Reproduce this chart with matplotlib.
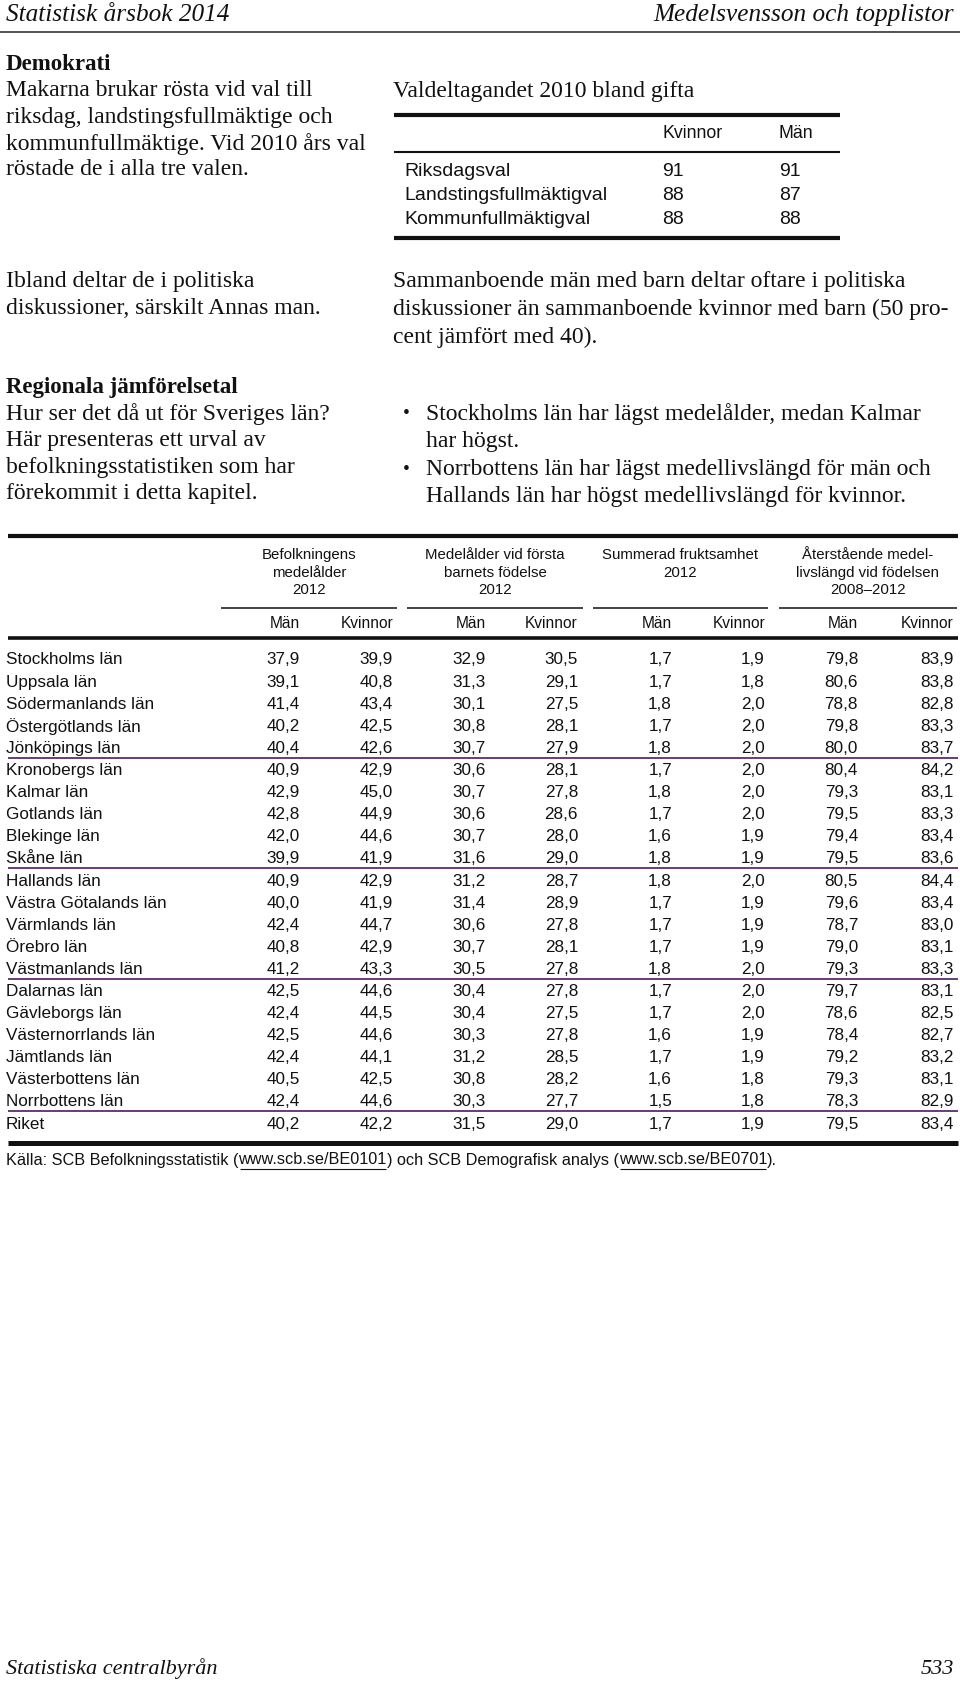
import matplotlib
matplotlib.use("Agg")
import matplotlib.pyplot as plt

SERIF = "Liberation Serif"
SANS = "Liberation Sans"
PURPLE = "#5e2b6e"

# ── data ────────────────────────────────────────────────────────────────
val_types = ["Riksdagsval", "Landstingsfullmäktigval", "Kommunfullmäktigval"]
val_kvinnor = [91, 88, 88]
val_man = [91, 87, 88]

regions = [
    "Stockholms län", "Uppsala län", "Södermanlands län", "Östergötlands län",
    "Jönköpings län", "Kronobergs län", "Kalmar län", "Gotlands län",
    "Blekinge län", "Skåne län", "Hallands län", "Västra Götalands län",
    "Värmlands län", "Örebro län", "Västmanlands län", "Dalarnas län",
    "Gävleborgs län", "Västernorrlands län", "Jämtlands län",
    "Västerbottens län", "Norrbottens län", "Riket",
]
medelalder_man = [37.9, 39.1, 41.4, 40.2, 40.4, 40.9, 42.9, 42.8, 42.0, 39.9, 40.9,
                  40.0, 42.4, 40.8, 41.2, 42.5, 42.4, 42.5, 42.4, 40.5, 42.4, 40.2]
medelalder_kv = [39.9, 40.8, 43.4, 42.5, 42.6, 42.9, 45.0, 44.9, 44.6, 41.9, 42.9,
                 41.9, 44.7, 42.9, 43.3, 44.6, 44.5, 44.6, 44.1, 42.5, 44.6, 42.2]
forsta_man = [32.9, 31.3, 30.1, 30.8, 30.7, 30.6, 30.7, 30.6, 30.7, 31.6, 31.2,
              31.4, 30.6, 30.7, 30.5, 30.4, 30.4, 30.3, 31.2, 30.8, 30.3, 31.5]
forsta_kv = [30.5, 29.1, 27.5, 28.1, 27.9, 28.1, 27.8, 28.6, 28.0, 29.0, 28.7,
             28.9, 27.8, 28.1, 27.8, 27.8, 27.5, 27.8, 28.5, 28.2, 27.7, 29.0]
frukt_man = [1.7, 1.7, 1.8, 1.7, 1.8, 1.7, 1.8, 1.7, 1.6, 1.8, 1.8,
             1.7, 1.7, 1.7, 1.8, 1.7, 1.7, 1.6, 1.7, 1.6, 1.5, 1.7]
frukt_kv = [1.9, 1.8, 2.0, 2.0, 2.0, 2.0, 2.0, 2.0, 1.9, 1.9, 2.0,
            1.9, 1.9, 1.9, 2.0, 2.0, 2.0, 1.9, 1.9, 1.8, 1.8, 1.9]
liv_man = [79.8, 80.6, 78.8, 79.8, 80.0, 80.4, 79.3, 79.5, 79.4, 79.5, 80.5,
           79.6, 78.7, 79.0, 79.3, 79.7, 78.6, 78.4, 79.2, 79.3, 78.3, 79.5]
liv_kv = [83.9, 83.8, 82.8, 83.3, 83.7, 84.2, 83.1, 83.3, 83.4, 83.6, 84.4,
          83.4, 83.0, 83.1, 83.3, 83.1, 82.5, 82.7, 83.2, 83.1, 82.9, 83.4]
group_titles = [
    "Befolkningens\nmedelålder\n2012",
    "Medelålder vid första\nbarnets födelse\n2012",
    "Summerad fruktsamhet\n2012",
    "Återstående medel-\nlivslängd vid födelsen\n2008–2012",
]
# rows after which a purple separator is drawn
separators_after = [4, 9, 14, 20]

# ── page setup (axes in pixel units, y downwards) ───────────────────────
fig = plt.figure(figsize=(9.6, 16.85), dpi=100)
ax = fig.add_axes([0, 0, 1, 1])
ax.set_xlim(0, 960)
ax.set_ylim(1685, 0)
ax.axis("off")

BODY = 17


def serif(x, y, s, size=BODY, **kw):
    ax.text(x, y, s, family=SERIF, fontsize=size, va="center", color="#111111", **kw)


def sans(x, y, s, size=12, **kw):
    ax.text(x, y, s, family=SANS, fontsize=size, va="center", color="#111111", **kw)


def hline(y, x0, x1, lw, color="#111111"):
    ax.plot([x0, x1], [y, y], color=color, lw=lw, solid_capstyle="butt")


# running header / footer
serif(6, 15, "Statistisk årsbok 2014", size=18.2, style="italic")
serif(954, 15, "Medelsvensson och topplistor", size=18.2, style="italic", ha="right")
hline(32, 0, 960, 1.2, "#333333")
serif(6, 1669, "Statistiska centralbyrån", size=16, style="italic")
serif(954, 1669, "533", size=16, style="italic", ha="right")

# left column text
serif(6, 64, "Demokrati", size=16.5, weight="bold")
for i, line in enumerate(["Makarna brukar rösta vid val till",
                          "riksdag, landstingsfullmäktige och",
                          "kommunfullmäktige. Vid 2010 års val",
                          "röstade de i alla tre valen."]):
    serif(6, 91 + i * 26.3, line)
for i, line in enumerate(["Ibland deltar de i politiska",
                          "diskussioner, särskilt Annas man."]):
    serif(6, 282 + i * 26.5, line)
serif(6, 387, "Regionala jämförelsetal", size=16.5, weight="bold")
for i, line in enumerate(["Hur ser det då ut för Sveriges län?",
                          "Här presenteras ett urval av",
                          "befolkningsstatistiken som har",
                          "förekommit i detta kapitel."]):
    serif(6, 414 + i * 26.5, line)

# right column text
serif(393, 91, "Valdeltagandet 2010 bland gifta")
for i, line in enumerate(["Sammanboende män med barn deltar oftare i politiska",
                          "diskussioner än sammanboende kvinnor med barn (50 pro-",
                          "cent jämfört med 40)."]):
    serif(393, 282 + i * 27.5, line)
for i, line in enumerate(["Stockholms län har lägst medelålder, medan Kalmar",
                          "har högst.",
                          "Norrbottens län har lägst medellivslängd för män och",
                          "Hallands län har högst medellivslängd för kvinnor."]):
    y = 414 + i * 27.5
    if i in (0, 2):
        serif(403, y, "•", size=14)
    serif(426, y, line)

# ── small table ─────────────────────────────────────────────────────────
hline(115, 394, 840, 3.0)
sans(662, 133, "Kvinnor", size=12.8)
sans(778, 133, "Män", size=12.8)
hline(152, 394, 840, 1.5)
for i, (lab, k, m) in enumerate(zip(val_types, val_kvinnor, val_man)):
    y = 172 + i * 23.5
    sans(404, y, lab, size=14)
    sans(662, y, str(k), size=14)
    sans(779, y, str(m), size=14)
hline(238, 394, 840, 3.0)

# ── big table ───────────────────────────────────────────────────────────
col_right = [300, 393, 486, 578, 672, 765, 858, 954]
group_span = [(221, 397), (407, 583), (593, 768), (779, 957)]

hline(536, 8, 958, 3.0)
for (x0, x1), title in zip(group_span, group_titles):
    ax.text((x0 + x1) / 2, 548, title, family=SANS, fontsize=10.8, ha="center",
            va="top", linespacing=1.33, color="#111111")
    hline(608, x0, x1, 1.1)
for j, x in enumerate(col_right):
    sans(x, 623, "Män" if j % 2 == 0 else "Kvinnor", size=11.2, ha="right")
hline(638, 8, 958, 2.6)

columns = [medelalder_man, medelalder_kv, forsta_man, forsta_kv,
           frukt_man, frukt_kv, liv_man, liv_kv]
row_h = 22.1
for i, name in enumerate(regions):
    y = 660 + i * row_h
    sans(6, y, name, size=12.3)
    for x, col in zip(col_right, columns):
        sans(x, y, f"{col[i]:.1f}".replace(".", ","), size=12.3, ha="right")
for i in separators_after:
    hline(660 + i * row_h + 9.5, 8, 958, 1.3, PURPLE)
hline(1143, 8, 958, 3.6)

# source line with underlined links
pieces = [("Källa: SCB Befolkningsstatistik (", False), ("www.scb.se/BE0101", True),
          (") och SCB Demografisk analys (", False), ("www.scb.se/BE0701", True),
          (").", False)]
renderer = fig.canvas.get_renderer()
x = 6
for s, under in pieces:
    t = ax.text(x, 1160, s, family=SANS, fontsize=11.7, va="center", color="#111111")
    bb = t.get_window_extent(renderer=renderer)
    if under:
        hline(1169, x + 1, x + bb.width - 1, 0.8)
    x += bb.width

fig.savefig("out.png", dpi=100)
